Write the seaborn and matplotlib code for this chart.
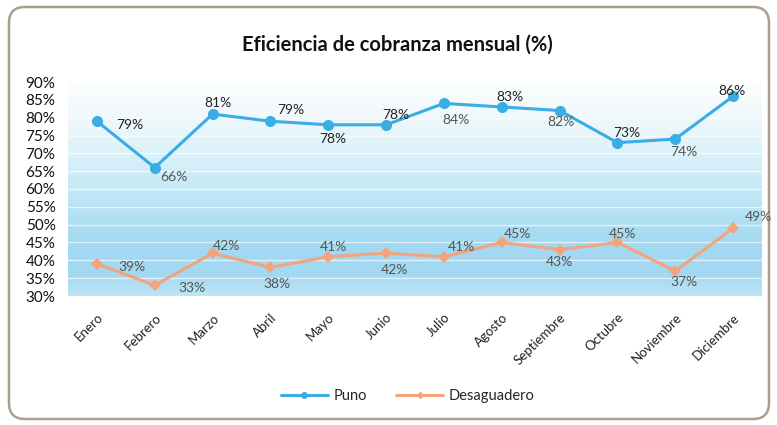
import numpy as np
import pandas as pd
import matplotlib.pyplot as plt
import seaborn as sns
from matplotlib.colors import LinearSegmentedColormap
from matplotlib.patches import FancyBboxPatch
from matplotlib.lines import Line2D
from matplotlib.ticker import FuncFormatter

# data
meses = ['Enero', 'Febrero', 'Marzo', 'Abril', 'Mayo', 'Junio', 'Julio',
         'Agosto', 'Septiembre', 'Octubre', 'Noviembre', 'Diciembre']
puno = [79, 66, 81, 79, 78, 78, 84, 83, 82, 73, 74, 86]
desaguadero = [39, 33, 42, 38, 41, 42, 41, 45, 43, 45, 37, 49]

df = pd.DataFrame({
    'mes': meses * 2,
    'valor': puno + desaguadero,
    'sede': ['Puno'] * 12 + ['Desaguadero'] * 12,
})
df['x'] = list(range(12)) * 2

sns.set_style('white')
plt.rcParams['font.family'] = ['Lato', 'DejaVu Sans']

fig = plt.figure(figsize=(7.77, 4.25), dpi=100)

# rounded frame
bg = fig.add_axes([0, 0, 1, 1], zorder=-5)
bg.set_xlim(0, 777)
bg.set_ylim(425, 0)
bg.axis('off')
bg.add_patch(FancyBboxPatch((9, 7), 760, 412, boxstyle='round,pad=0,rounding_size=16',
                            fc='white', ec='#a99f8b', lw=1.8))

ax = fig.add_axes([68 / 777, 1 - 296 / 425, 694 / 777, 214 / 425])
ax.patch.set_alpha(0)

# gradient background
cmap = LinearSegmentedColormap.from_list('bg', [
    (0.0, '#fbfdfe'), (0.15, '#f1f9fc'), (0.35, '#d9f1f9'),
    (0.55, '#bde5f5'), (0.75, '#a3d9f1'), (0.9, '#a2d8f1'), (1.0, '#bee5f5')])
grad = np.linspace(0, 1, 200).reshape(-1, 1)
ax.imshow(grad, cmap=cmap, aspect='auto', extent=[-0.5, 11.5, 30, 90],
          origin='upper', zorder=0)
for yv in range(35, 90, 5):
    ax.axhline(yv, color='white', lw=1.0, alpha=0.65, zorder=1)

palette = {'Puno': '#3aaee4', 'Desaguadero': '#f3a47c'}
sns.lineplot(data=df, x='x', y='valor', hue='sede', style='sede',
             markers={'Puno': 'o', 'Desaguadero': 'D'}, dashes=False,
             palette=palette, lw=2.2, markersize=8, markeredgewidth=0,
             ax=ax, zorder=3, legend=False)
# smaller diamonds
ax.lines[-1].set_markersize(6)

# label offsets (points)
off_p = [(24, -3), (14, -7), (4, 8), (15, 8), (3, -10), (7, 7),
         (9, -12), (6, 7), (1, -8), (7, 7), (6, -9), (-1, 4)]
col_p = ['#222222', '#555555', '#222222', '#222222', '#222222', '#222222',
         '#555555', '#222222', '#555555', '#222222', '#555555', '#222222']
off_d = [(25, -2), (27, -2), (10, 5), (5, -12), (4, 7), (6, -12),
         (13, 7), (11, 6), (0, -9), (4, 6), (6, -8), (18, 8)]

for i in range(12):
    ax.annotate(f'{puno[i]}%', (i, puno[i]), xytext=off_p[i], textcoords='offset points',
                ha='center', va='center', fontsize=10, color=col_p[i], zorder=5)
    ax.annotate(f'{desaguadero[i]}%', (i, desaguadero[i]), xytext=off_d[i],
                textcoords='offset points', ha='center', va='center', fontsize=10,
                color='#555555', zorder=5)

ax.set_xlim(-0.5, 11.5)
ax.set_ylim(30, 90)
ax.set_yticks(range(30, 91, 5))
ax.yaxis.set_major_formatter(FuncFormatter(lambda v, p: f'{v:.0f}%'))
ax.set_xticks(range(12))
ax.set_xticklabels(meses, rotation=45, ha='right', rotation_mode='anchor')
ax.tick_params(axis='y', labelsize=11, pad=9, length=0, labelcolor='#111111')
ax.tick_params(axis='x', labelsize=9.5, pad=11, length=0, labelcolor='#222222')
ax.set_xlabel('')
ax.set_ylabel('')
for s in ax.spines.values():
    s.set_visible(False)

fig.text(0.512, 1 - 45 / 425, 'Eficiencia de cobranza mensual (%)', ha='center', va='center',
         fontsize=14.5, fontweight='bold', color='#111111')

handles = [Line2D([], [], color=palette['Puno'], lw=2.2, marker='o', markersize=4),
           Line2D([], [], color=palette['Desaguadero'], lw=2.2, marker='D', markersize=3)]
fig.legend(handles, ['Puno', 'Desaguadero'], loc='center', bbox_to_anchor=(0.525, 1 - 396 / 425),
           ncol=2, frameon=False, fontsize=10.5, handlelength=3.2, columnspacing=2.0,
           handletextpad=0.4)

fig.savefig('out.png', dpi=100)
